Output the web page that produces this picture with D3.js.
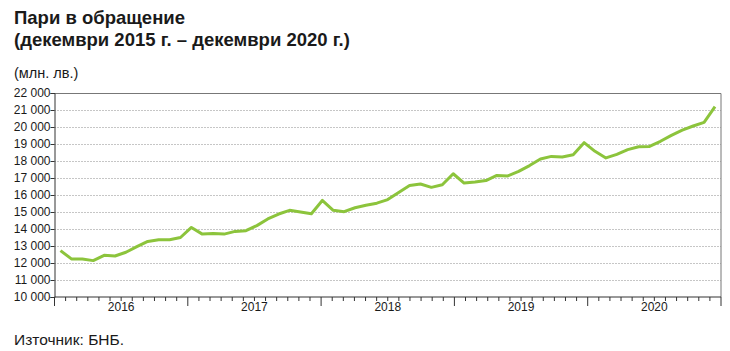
<!DOCTYPE html>
<meta charset="utf-8">
<script src="https://d3js.org/d3.v7.min.js"></script>
<style>
  body { margin: 0; background: #fff; }
  text { font-family: "Liberation Sans", Arial, sans-serif; fill: #1a1a1a; }
</style>
<div id="chart"></div>
<script>

// monthly points, Dec 2015 .. Dec 2020 (mln. BGN)
var months = d3.timeMonth.range(new Date(2015, 11, 1), new Date(2021, 0, 1));
var money = [
  12730, 12240, 12240, 12140, 12450, 12410, 12630, 12960, 13270, 13370, 13370, 13500,
  14090, 13700, 13740, 13700, 13860, 13900, 14200, 14590, 14880, 15100, 15000, 14900,
  15680, 15100, 15020, 15250, 15400, 15520, 15730, 16150, 16560, 16650, 16450, 16600,
  17250, 16700, 16760, 16850, 17150, 17120, 17390, 17730, 18120, 18270, 18240, 18370,
  19080, 18570, 18180, 18390, 18670, 18840, 18860, 19160, 19510, 19820, 20060, 20270,
  21200
];
var years = ["2016", "2017", "2018", "2019", "2020"];
var yTicks = d3.range(10000, 22001, 1000);

var W = 730, H = 351;
var margin = {top: 93, right: 9, bottom: 54, left: 54.5},
    width = W - margin.left - margin.right,
    height = H - margin.top - margin.bottom;

var svg = d3.select("#chart")
  .append("svg")
    .attr("width", W)
    .attr("height", H);

// titles
svg.append("text")
    .attr("x", 14).attr("y", 24)
    .style("font-size", "18.5px").style("font-weight", "bold")
    .text("Пари в обращение");
svg.append("text")
    .attr("x", 14).attr("y", 46)
    .style("font-size", "18.5px").style("font-weight", "bold")
    .text("(декември 2015 г. – декември 2020 г.)");
svg.append("text")
    .attr("x", 14).attr("y", 78)
    .style("font-size", "14.5px")
    .text("(млн. лв.)");
svg.append("text")
    .attr("x", 14).attr("y", 345)
    .style("font-size", "15.5px")
    .text("Източник: БНБ.");

var g = svg.append("g")
    .attr("transform", "translate(" + margin.left + "," + margin.top + ")");

var y = d3.scaleLinear()
  .domain([10000, 22000])
  .range([height, 0]);

// x for the points
var x = d3.scalePoint()
  .domain(months.map(function(d, i) { return i; }))
  .range([0, width])
  .padding(0.55);

// month slots for the axis (Jan 2016 .. Dec 2020)
var slots = d3.range(60);
var xb = d3.scaleBand()
  .domain(slots)
  .range([0, width]);

// grid
g.selectAll(".grid")
  .data(yTicks.slice(1, -1))
  .enter()
  .append("line")
    .attr("x1", 0).attr("x2", width)
    .attr("y1", function(d) { return Math.round(y(d)) + 0.5; })
    .attr("y2", function(d) { return Math.round(y(d)) + 0.5; })
    .attr("stroke", "#8c8c8c")
    .attr("stroke-width", 1)
    .attr("stroke-dasharray", "1,2");

// frame: top and right
g.append("path")
    .attr("d", "M0," + (y(22000) + 0.5) + "H" + width + "V" + height)
    .attr("fill", "none")
    .attr("stroke", "#777")
    .attr("stroke-width", 1);

// y axis
var yAxis = g.append("g")
    .call(d3.axisLeft(y)
      .tickValues(yTicks)
      .tickSize(4)
      .tickFormat(function(d) { return d3.format(",")(d).replace(",", " "); }));
yAxis.selectAll("text").style("font-size", "12px").attr("x", -4);
yAxis.select(".domain").attr("stroke", "#333");
yAxis.selectAll(".tick line").attr("stroke", "#333");

// x axis
var xAxis = g.append("g")
    .attr("transform", "translate(0," + height + ")");
xAxis.append("line")
    .attr("x1", 0).attr("x2", width)
    .attr("stroke", "#333");
xAxis.selectAll(".mtick")
  .data(d3.range(61))
  .enter()
  .append("line")
    .attr("x1", function(d) { return d < 60 ? xb(d) : width; })
    .attr("x2", function(d) { return d < 60 ? xb(d) : width; })
    .attr("y1", 0)
    .attr("y2", function(d) { return d % 12 === 0 ? 9 : 4; })
    .attr("stroke", "#333");
xAxis.selectAll(".ylab")
  .data(years)
  .enter()
  .append("text")
    .attr("x", function(d, i) { return xb(i * 12) + xb.bandwidth() * 6; })
    .attr("y", 14)
    .attr("text-anchor", "middle")
    .style("font-size", "12px")
    .text(function(d) { return d; });

// line
var line = d3.line()
  .x(function(d, i) { return x(i); })
  .y(function(d) { return y(d); });

g.append("path")
    .datum(money)
    .attr("fill", "none")
    .attr("stroke", "#8cc43c")
    .attr("stroke-width", 3)
    .attr("stroke-linejoin", "round")
    .attr("d", line);

</script>
